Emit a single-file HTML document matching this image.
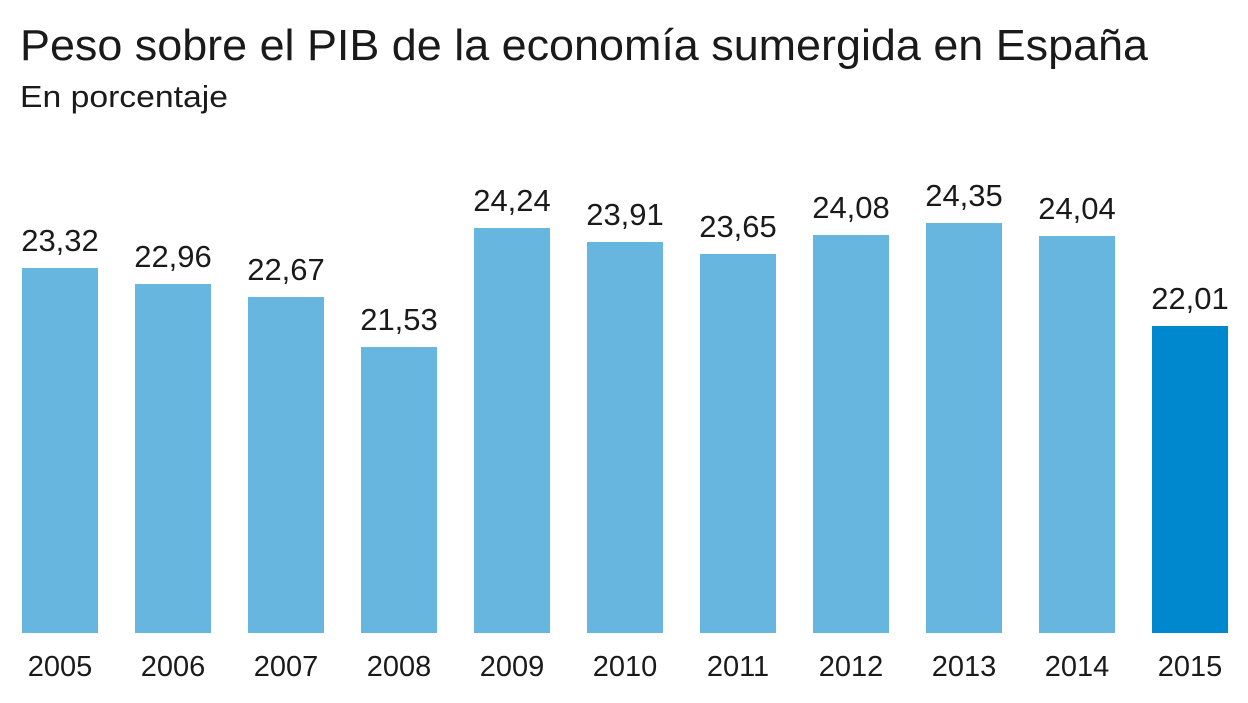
<!DOCTYPE html>
<html><head><meta charset="utf-8"><style>
body{margin:0;width:1248px;height:698px;background:#fff;overflow:hidden;font-family:"Liberation Sans",sans-serif;color:#1a1a1a}
</style></head><body>
<svg width="1248" height="698" xmlns="http://www.w3.org/2000/svg" font-family="Liberation Sans, sans-serif">
<text x="20" y="60" font-size="44" fill="#1a1a1a" textLength="1128" lengthAdjust="spacingAndGlyphs">Peso sobre el PIB de la economía sumergida en España</text>
<text x="20" y="107" font-size="31" fill="#1a1a1a" textLength="208" lengthAdjust="spacingAndGlyphs">En porcentaje</text>
<g font-size="31" text-anchor="middle" fill="#1a1a1a">
<rect x="22" y="268" width="76" height="365" fill="#67b6e0"/><text x="60" y="251">23,32</text>
<rect x="135" y="284" width="76" height="349" fill="#67b6e0"/><text x="173" y="267">22,96</text>
<rect x="248" y="297" width="76" height="336" fill="#67b6e0"/><text x="286" y="280">22,67</text>
<rect x="361" y="347" width="76" height="286" fill="#67b6e0"/><text x="399" y="330">21,53</text>
<rect x="474" y="228" width="76" height="405" fill="#67b6e0"/><text x="512" y="211">24,24</text>
<rect x="587" y="242" width="76" height="391" fill="#67b6e0"/><text x="625" y="225">23,91</text>
<rect x="700" y="254" width="76" height="379" fill="#67b6e0"/><text x="738" y="237">23,65</text>
<rect x="813" y="235" width="76" height="398" fill="#67b6e0"/><text x="851" y="218">24,08</text>
<rect x="926" y="223" width="76" height="410" fill="#67b6e0"/><text x="964" y="206">24,35</text>
<rect x="1039" y="236" width="76" height="397" fill="#67b6e0"/><text x="1077" y="219">24,04</text>
<rect x="1152" y="326" width="76" height="307" fill="#0088cf"/><text x="1190" y="309">22,01</text>
</g>
<g font-size="29" text-anchor="middle" fill="#1a1a1a">
<text x="60" y="676">2005</text><text x="173" y="676">2006</text><text x="286" y="676">2007</text><text x="399" y="676">2008</text><text x="512" y="676">2009</text><text x="625" y="676">2010</text><text x="738" y="676">2011</text><text x="851" y="676">2012</text><text x="964" y="676">2013</text><text x="1077" y="676">2014</text><text x="1190" y="676">2015</text>
</g>
</svg>
</body></html>
